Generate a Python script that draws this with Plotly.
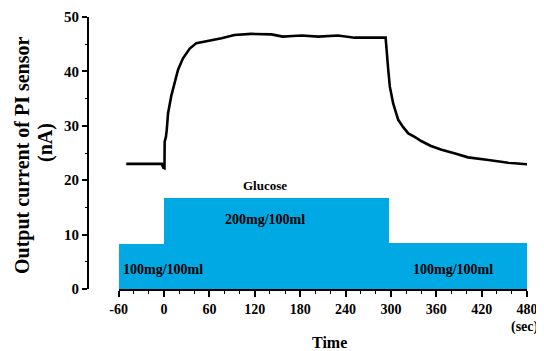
import plotly.graph_objects as go

# ---- data ----
time_sec = [-50, -3, -1, 0.5, 0.8, 2.5, 3.5, 5.3, 9.7, 14, 18.5, 25, 34, 42.7, 50, 60, 76, 93,
            115, 142, 157, 170, 182, 204, 230, 252, 270, 293, 296.5, 298.6, 303, 309.7, 316,
            323, 332, 340, 353, 367, 385, 402, 429, 455, 482]
current_nA = [23.0, 23.0, 22.3, 22.2, 27.1, 28.0, 29.2, 32.3, 35.6, 37.9, 40.3, 42.4, 44.2, 45.2,
              45.4, 45.6, 46.1, 46.7, 46.9, 46.8, 46.4, 46.5, 46.6, 46.4, 46.6, 46.2, 46.2, 46.2,
              40.3, 37.2, 34.1, 31.1, 29.8, 28.6, 27.9, 27.2, 26.3, 25.6, 24.9, 24.2, 23.7, 23.2, 22.9]

step_start = [-60, -1, 297]
step_end = [-1, 297, 480]
step_level = [8.3, 16.7, 8.4]
step_labels = ["100mg/100ml", "200mg/100ml", "100mg/100ml"]
step_label_x = [-1.3, 134, 381.5]
step_label_y = [3.6, 12.7, 3.5]

x_ticks = [-60, 0, 60, 120, 180, 240, 300, 360, 420, 480]
y_ticks = [0, 10, 20, 30, 40, 50]

FONT = "Liberation Serif"
BLUE = "#00A8E4"

fig = go.Figure()
fig.add_trace(go.Bar(
    x=[(s + e) / 2 for s, e in zip(step_start, step_end)],
    y=step_level,
    width=[e - s for s, e in zip(step_start, step_end)],
    marker=dict(color=BLUE, line=dict(width=0)),
    hoverinfo="skip",
))
fig.add_trace(go.Scatter(
    x=time_sec, y=current_nA, mode="lines",
    line=dict(color="black", width=2.6),
    cliponaxis=False,
))

# page has an 8px body margin: compensate so the figure lands at window coords
OFF = 8
FW, FH = 544 - OFF, 351 - OFF
L, R, T, B = 88 - OFF, 17, 17 - OFF, 62
W = FW - L - R
H = FH - T - B
x0_px = 118.7
dom0 = (x0_px - 88) / W

def px_x(px):
    return (px - 88) / W

def px_y(py):
    return (289 - py) / H

def txt(text, x, y, size, xref="paper", yref="paper", angle=0):
    return dict(x=x, y=y, xref=xref, yref=yref, text=text, showarrow=False,
                xanchor="center", yanchor="middle", textangle=angle,
                font=dict(family=FONT, size=size, color="black", weight="bold"))

ann = []
for t, ax, ay in zip(step_labels, step_label_x, step_label_y):
    ann.append(txt(t, ax, ay, 14, "x", "y"))
ann.append(txt("Glucose", 134, 19.1, 13, "x", "y"))
ann.append(txt("Time", px_x(329), px_y(342), 16))
ann.append(txt("(sec)", px_x(525), px_y(327), 14))
ann.append(txt("Output current of PI sensor", px_x(22), px_y(155), 20, angle=-90))
ann.append(txt("(nA)", px_x(45), px_y(143), 20, angle=-90))

fig.update_layout(
    template="none",
    width=FW, height=FH,
    margin=dict(l=L, r=R, t=T, b=B, autoexpand=False),
    paper_bgcolor="white", plot_bgcolor="white",
    showlegend=False,
    bargap=0,
    annotations=ann,
    xaxis=dict(
        domain=[dom0, 1], range=[-60, 480], automargin=False,
        tickvals=x_ticks, ticktext=[str(v) for v in x_ticks],
        showgrid=False, zeroline=False,
        showline=True, linecolor="black", linewidth=2,
        ticks="outside", ticklen=6, tickwidth=1.5, tickcolor="black",
        minor=dict(tick0=-60, dtick=20, ticks="outside", ticklen=3, tickwidth=1.2,
                   tickcolor="black", showgrid=False),
        tickfont=dict(family=FONT, size=14, color="black", weight="bold"),
    ),
    yaxis=dict(
        anchor="free", position=0, range=[0, 50], automargin=False,
        tickvals=y_ticks, ticktext=[str(v) for v in y_ticks],
        showgrid=False, zeroline=False,
        showline=True, linecolor="black", linewidth=2,
        ticks="outside", ticklen=5, tickwidth=1.5, tickcolor="black",
        minor=dict(tick0=0, dtick=5, ticks="outside", ticklen=2.5, tickwidth=1.2,
                   tickcolor="black", showgrid=False),
        tickfont=dict(family=FONT, size=15, color="black", weight="bold"),
    ),
)

fig.write_html("out.html")
